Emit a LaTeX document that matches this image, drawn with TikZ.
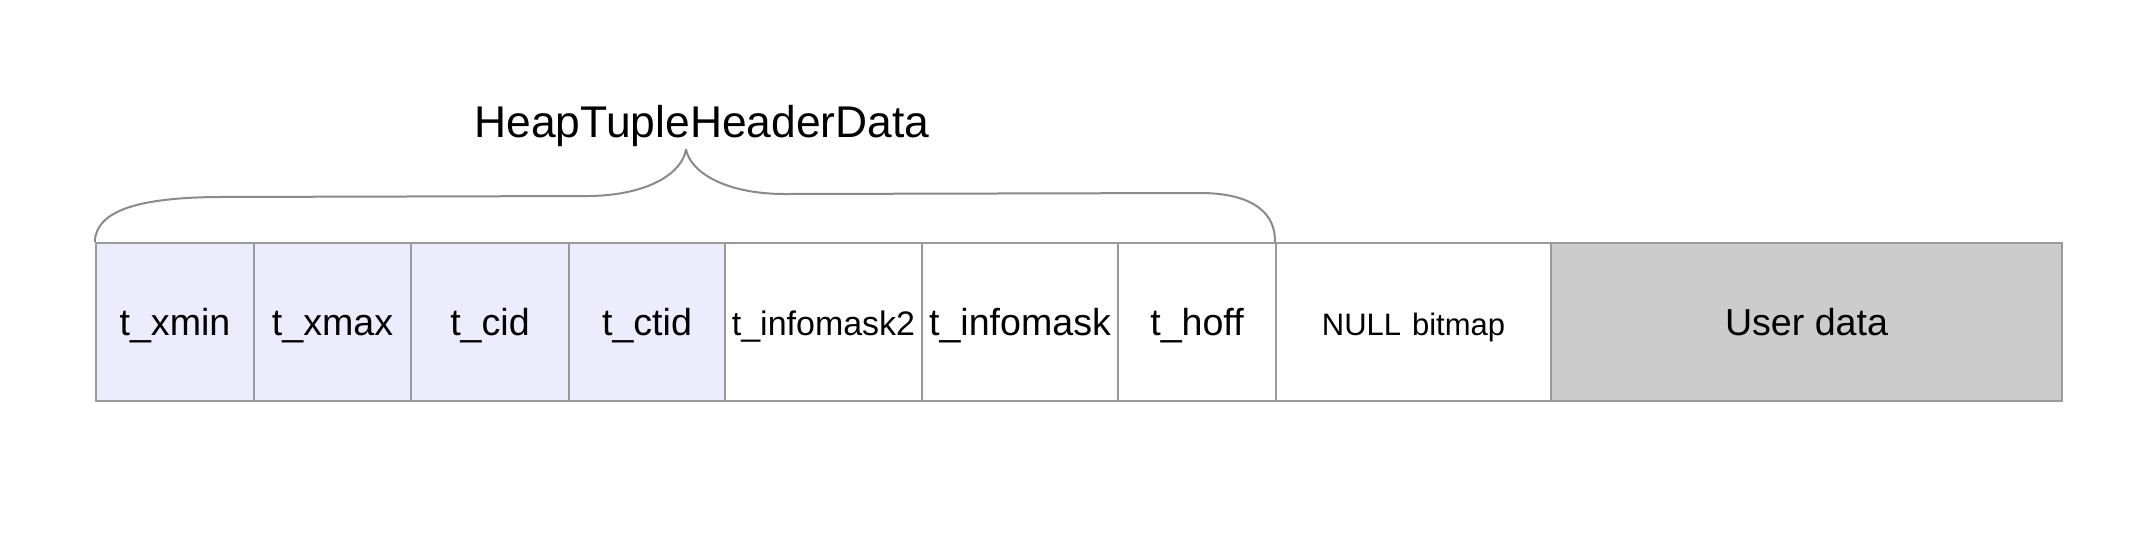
\documentclass[tikz,border=0pt]{standalone}
\usepackage{fontspec}
\setmainfont{Liberation Sans}
\definecolor{lav}{HTML}{ECECFC}
\definecolor{userg}{HTML}{CCCCCC}
\definecolor{edge}{HTML}{9A9A9A}
\definecolor{bracec}{HTML}{8A8A8A}
\begin{document}
\begin{tikzpicture}[x=0.5pt,y=-0.5pt,
  cell/.style={draw=edge,line width=1.2pt,inner sep=0pt,minimum height=79pt,anchor=center,
    text height=13.6pt,text depth=-0.2pt,font=\fontsize{18.8}{20}\selectfont},
  hdr/.style={cell,fill=lav},
  brace/.style={draw=bracec,line width=1pt}]
\useasboundingbox (0,0) rectangle (2154,538);
\fill[white] (0,0) rectangle (2154,538);
\node[hdr,minimum width=79pt]   (c1) at (175,322)    {t\_xmin};
\node[hdr,minimum width=78.5pt] (c2) at (332.5,322)  {t\_xmax};
\node[hdr,minimum width=79pt]   (c3) at (490,322)    {t\_cid};
\node[hdr,minimum width=78pt]   (c4) at (647,322)    {t\_ctid};
\node[cell,minimum width=98.5pt,font=\fontsize{17}{19}\selectfont] (c5) at (823.5,322) {t\_infomask2};
\node[cell,minimum width=98pt]  (c6) at (1020,322)   {t\_infomask};
\node[cell,minimum width=79pt]  (c7) at (1197,322)   {t\_hoff};
\node[cell,minimum width=137.5pt,font=\fontsize{15.5}{17}\selectfont] (c8) at (1413.5,322) {NULL\hspace{0.35em}bitmap};
\node[cell,fill=userg,minimum width=255.5pt] (c9) at (1806.5,322) {User data};
\node[font=\fontsize{22.2}{24}\selectfont] (title) at (702,126) {HeapTupleHeaderData};
\coordinate (tip) at (686,149);
\draw[brace] (c1.north west) .. controls (96,210) and (140,198) .. (215,197)
  -- (590,196) .. controls (650,195) and (683,172) .. (tip);
\draw[brace] (tip) .. controls (690,172) and (725,194) .. (785,194)
  -- (1200,193) .. controls (1255,193) and (1276,215) .. (c8.north west);
\end{tikzpicture}
\end{document}
